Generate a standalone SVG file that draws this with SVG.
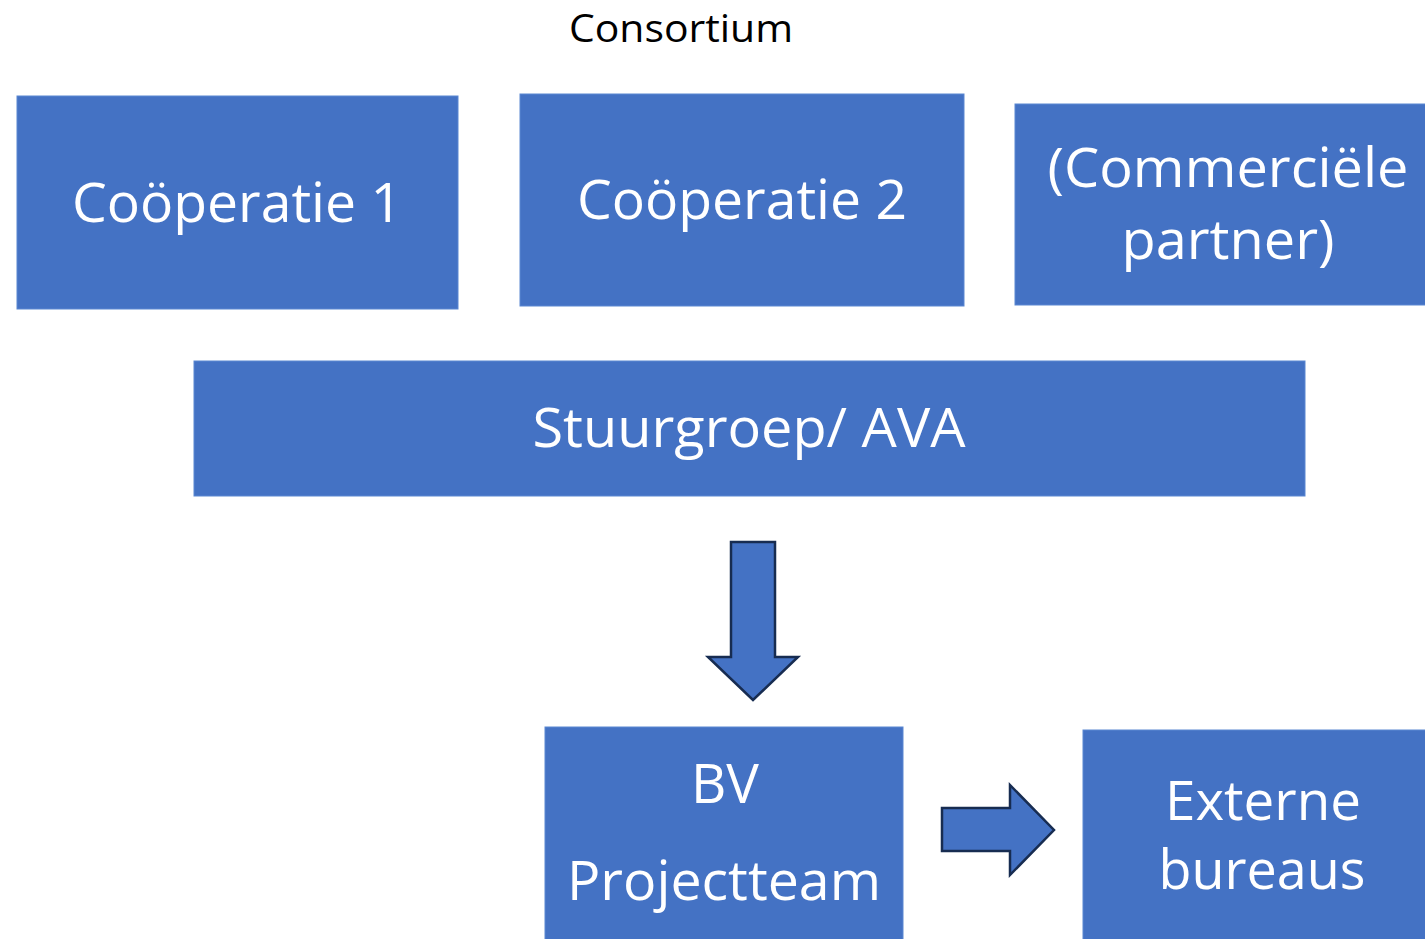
<svg xmlns="http://www.w3.org/2000/svg" width="1425" height="939" viewBox="0 0 1425 939">
<style>
.box{fill:#4472C4;stroke:#5A87D2;stroke-width:1}
.t{fill:#FFFFFF;font-family:"Open Sans","Noto Sans","Liberation Sans",sans-serif;font-size:54px;text-anchor:middle}
.arr{fill:#4472C4;stroke:#172C51;stroke-width:2.5;stroke-linejoin:miter}
.title{fill:#000000;font-family:"Open Sans","Noto Sans","Liberation Sans",sans-serif;font-size:38px;text-anchor:middle}
</style>
<rect width="1425" height="939" fill="#FFFFFF"/>
<text class="title" x="681" y="42" textLength="224" lengthAdjust="spacingAndGlyphs">Consortium</text>
<g id="cooperatie1">
<rect class="box" x="17" y="96" width="441" height="213"/>
<text class="t" x="237" y="222" textLength="330" lengthAdjust="spacingAndGlyphs">Coöperatie 1</text>
</g>
<g id="cooperatie2">
<rect class="box" x="520" y="94" width="444" height="212"/>
<text class="t" x="742" y="219" textLength="330" lengthAdjust="spacingAndGlyphs">Coöperatie 2</text>
</g>
<g id="commercieel">
<rect class="box" x="1015" y="104" width="420" height="201"/>
<text class="t" x="1228" y="187" textLength="361" lengthAdjust="spacingAndGlyphs">(Commerciële</text>
<text class="t" x="1228" y="259" textLength="213" lengthAdjust="spacingAndGlyphs">partner)</text>
</g>
<g id="stuurgroep">
<rect class="box" x="194" y="361" width="1111" height="135"/>
<text class="t" x="749" y="447" textLength="433" lengthAdjust="spacingAndGlyphs">Stuurgroep/ AVA</text>
</g>
<g id="bv">
<rect class="box" x="545" y="727" width="358" height="222"/>
<text class="t" x="725" y="803" textLength="68" lengthAdjust="spacingAndGlyphs">BV</text>
<text class="t" x="724" y="900" textLength="314" lengthAdjust="spacingAndGlyphs">Projectteam</text>
</g>
<g id="externe">
<rect class="box" x="1083" y="730" width="352" height="219"/>
<text class="t" x="1263" y="820" textLength="196" lengthAdjust="spacingAndGlyphs">Externe</text>
<text class="t" x="1262" y="889" textLength="207" lengthAdjust="spacingAndGlyphs">bureaus</text>
</g>
<g id="connectors">
<polygon class="arr" points="731,542 775,542 775,657 798,657 753,700 708,657 731,657"/>
<polygon class="arr" points="942,808 1010,808 1010,785 1054,830 1010,875 1010,851 942,851"/>
</g>
</svg>
